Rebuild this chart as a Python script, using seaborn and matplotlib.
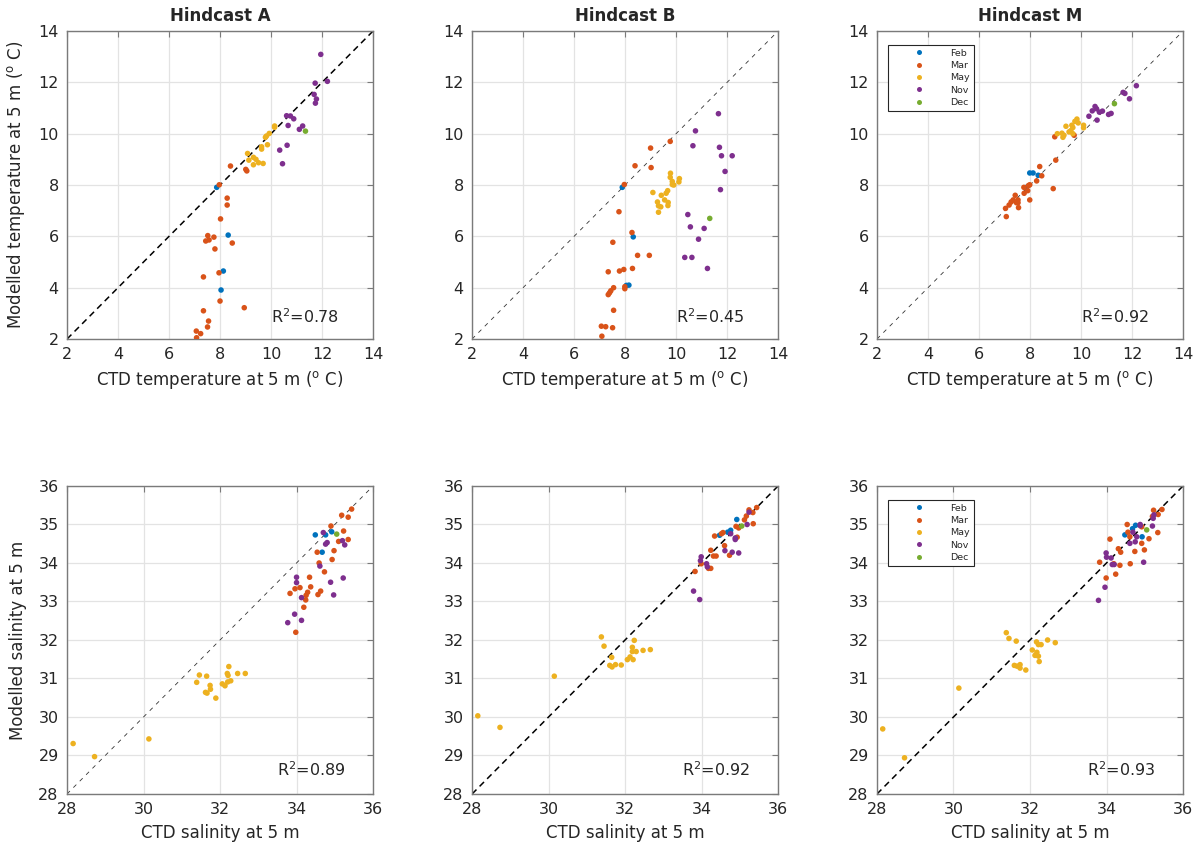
import matplotlib
matplotlib.use('Agg')
import matplotlib.pyplot as plt
from matplotlib.lines import Line2D
import seaborn as sns
import pandas as pd

months = ['Feb', 'Mar', 'May', 'Nov', 'Dec']
month_colors = {'Feb': '#0072BD', 'Mar': '#D95319', 'May': '#EDB120',
                'Nov': '#7E2F8E', 'Dec': '#77AC30'}

# temperature at 5 m: (CTD, modelled) per month
temp_a = {
    'Feb': ([7.87, 8.32, 8.13, 8.04], [7.91, 6.05, 4.65, 3.91]),
    'Mar': ([8.41, 9.01, 9.05, 7.97, 8.28, 8.28, 8.02, 7.52, 7.76, 7.44, 7.57, 8.48,
             7.80, 7.35, 7.96, 8.00, 8.95, 7.35, 7.55, 7.51, 7.07, 7.24, 7.08],
            [8.74, 8.61, 8.55, 8.01, 7.49, 7.22, 6.68, 6.03, 5.97, 5.82, 5.86, 5.74,
             5.51, 4.42, 4.58, 3.48, 3.22, 3.10, 2.70, 2.47, 2.31, 2.21, 2.05]),
    'May': ([10.14, 10.14, 9.93, 9.82, 9.78, 9.86, 9.63, 9.63, 9.08, 9.31, 9.13, 9.41,
             9.51, 9.69, 9.31],
            [10.30, 10.25, 10.01, 9.91, 9.86, 9.57, 9.49, 9.40, 9.23, 9.08, 8.97, 9.00,
             8.87, 8.84, 8.79]),
    'Nov': ([11.95, 12.21, 11.73, 11.69, 11.78, 11.74, 10.61, 10.76, 10.89, 10.67,
             11.24, 11.11, 10.63, 10.34, 10.45],
            [13.09, 12.04, 11.97, 11.53, 11.35, 11.19, 10.70, 10.69, 10.58, 10.32,
             10.30, 10.17, 9.55, 9.36, 8.83]),
    'Dec': ([11.35], [10.10]),
}
temp_b = {
    'Feb': ([7.89, 8.32, 8.05, 8.15], [7.91, 5.98, 4.09, 4.10]),
    'Mar': ([9.77, 9.00, 8.39, 9.02, 7.97, 7.76, 8.27, 7.52, 8.49, 8.95, 8.29, 7.95,
             7.78, 7.34, 7.99, 7.99, 7.55, 7.44, 7.39, 7.34, 7.55, 7.07, 7.24, 7.51, 7.09],
            [9.70, 9.44, 8.75, 8.68, 8.02, 6.96, 6.15, 5.77, 5.26, 5.26, 4.75, 4.71,
             4.65, 4.62, 3.96, 4.04, 4.00, 3.88, 3.80, 3.73, 3.12, 2.50, 2.48, 2.44, 2.11]),
    'May': ([9.78, 9.77, 9.85, 10.13, 10.11, 9.91, 9.85, 9.09, 9.67, 9.61, 9.42, 9.55,
             9.27, 9.69, 9.68, 9.31, 9.40, 9.31],
            [8.46, 8.30, 8.14, 8.25, 8.12, 8.00, 8.02, 7.71, 7.78, 7.68, 7.60, 7.42,
             7.34, 7.32, 7.20, 7.19, 7.15, 6.94]),
    'Nov': ([11.66, 10.76, 10.66, 11.70, 11.78, 12.20, 11.92, 11.74, 10.46, 10.56,
             11.10, 10.88, 10.34, 10.62, 11.23],
            [10.78, 10.11, 9.53, 9.47, 9.14, 9.14, 8.53, 7.82, 6.85, 6.37, 6.31, 5.89,
             5.18, 5.18, 4.75]),
    'Dec': ([11.32], [6.70]),
}
temp_m = {
    'Feb': ([7.99, 8.12, 8.32, 7.86], [8.47, 8.47, 8.38, 7.91]),
    'Mar': ([8.97, 9.73, 9.01, 8.38, 8.46, 8.26, 7.99, 7.94, 7.76, 8.91, 7.91, 7.77,
             7.99, 7.42, 7.34, 7.53, 7.47, 7.53, 7.26, 7.55, 7.04, 7.07, 7.18],
            [9.88, 9.94, 8.97, 8.72, 8.36, 8.16, 8.01, 7.98, 7.91, 7.86, 7.78, 7.68,
             7.42, 7.60, 7.42, 7.42, 7.31, 7.31, 7.34, 7.12, 7.09, 6.77, 7.22]),
    'May': ([9.84, 9.76, 9.89, 10.10, 10.10, 9.41, 9.64, 9.68, 9.60, 9.53, 9.25, 9.33,
             9.29, 9.07, 9.68],
            [10.57, 10.48, 10.42, 10.33, 10.23, 10.29, 10.33, 10.24, 10.12, 10.07, 10.02,
             9.94, 9.86, 10.00, 10.00]),
    'Nov': ([12.17, 11.65, 11.72, 11.90, 10.55, 10.44, 10.61, 10.72, 10.84, 10.31,
             10.63, 11.08, 11.18],
            [11.87, 11.61, 11.57, 11.36, 11.06, 10.89, 10.97, 10.84, 10.88, 10.68,
             10.53, 10.75, 10.79]),
    'Dec': ([11.31], [11.17]),
}

# salinity at 5 m
sal_a = {
    'Feb': ([34.49, 34.76, 34.92, 34.67], [34.73, 34.73, 34.81, 34.28]),
    'Mar': ([35.44, 35.18, 35.35, 34.90, 35.23, 35.10, 35.35, 34.98, 34.54, 34.59, 34.93,
             34.73, 34.34, 33.96, 34.09, 33.83, 34.37, 34.29, 34.25, 34.24, 34.63, 34.56,
             34.19, 33.98],
            [35.40, 35.24, 35.19, 34.96, 34.83, 34.56, 34.61, 34.32, 34.28, 34.00, 34.09,
             33.77, 33.63, 33.33, 33.36, 33.21, 33.38, 33.24, 33.16, 33.04, 33.27, 33.18,
             32.85, 32.20]),
    'May': ([28.16, 28.72, 30.14, 31.39, 31.46, 31.65, 31.62, 31.66, 31.74, 31.75, 31.89,
             32.06, 32.13, 32.19, 32.21, 32.23, 32.20, 32.28, 32.46, 32.66],
            [29.31, 28.97, 29.43, 30.90, 31.09, 31.06, 30.64, 30.62, 30.82, 30.72, 30.49,
             30.86, 30.81, 31.13, 31.08, 31.31, 30.91, 30.94, 31.13, 31.13]),
    'Nov': ([34.70, 34.80, 34.76, 35.20, 35.26, 34.61, 34.00, 34.00, 34.89, 35.22, 34.13,
             34.97, 33.95, 33.77, 34.13],
            [34.79, 34.53, 34.49, 34.58, 34.47, 33.92, 33.63, 33.49, 33.50, 33.61, 33.10,
             33.17, 32.67, 32.45, 32.51]),
    'Dec': ([35.05], [34.75]),
}
sal_b = {
    'Feb': ([34.92, 34.47, 34.68, 34.76], [35.13, 34.72, 34.80, 34.85]),
    'Mar': ([35.44, 35.24, 35.34, 35.17, 35.12, 35.35, 34.90, 34.97, 34.56, 34.34, 34.52,
             34.93, 34.60, 34.24, 34.31, 34.38, 34.73, 33.99, 34.18, 34.24, 33.83],
            [35.44, 35.38, 35.31, 35.22, 35.12, 35.02, 34.95, 34.91, 34.79, 34.70, 34.76,
             34.67, 34.45, 34.33, 34.18, 34.18, 34.20, 33.98, 33.86, 33.86, 33.78]),
    'May': ([28.15, 28.73, 30.15, 31.38, 31.45, 31.65, 31.60, 31.66, 31.75, 31.90, 32.06,
             32.13, 32.21, 32.19, 32.19, 32.24, 32.29, 32.47, 32.66],
            [30.03, 29.73, 31.06, 32.08, 31.84, 31.55, 31.34, 31.30, 31.36, 31.35, 31.49,
             31.56, 31.49, 31.81, 31.70, 31.99, 31.70, 31.73, 31.75]),
    'Nov': ([33.79, 33.95, 33.99, 33.97, 34.13, 34.15, 34.61, 34.80, 34.97, 34.88, 34.88,
             34.76, 35.19, 35.24],
            [33.27, 33.05, 34.16, 34.06, 33.98, 33.90, 34.32, 34.28, 34.26, 34.61, 34.65,
             34.76, 35.00, 35.32]),
    'Dec': ([35.05], [34.96]),
}
sal_m = {
    'Feb': ([34.48, 34.68, 34.76, 34.93], [34.73, 34.89, 34.98, 34.68]),
    'Mar': ([35.45, 35.23, 35.35, 35.20, 34.92, 34.54, 34.56, 34.61, 34.09, 35.11, 35.34,
             34.92, 34.31, 34.37, 34.74, 34.99, 33.82, 34.19, 34.35, 34.62, 34.24, 33.99],
            [35.39, 35.37, 35.26, 35.21, 34.94, 35.00, 34.80, 34.68, 34.62, 34.63, 34.79,
             34.51, 34.37, 34.28, 34.30, 34.34, 34.02, 33.98, 33.94, 33.98, 33.71, 33.61]),
    'May': ([28.15, 28.72, 30.14, 31.38, 31.45, 31.64, 31.59, 31.66, 31.74, 31.74, 31.89,
             32.06, 32.17, 32.18, 32.13, 32.22, 32.24, 32.22, 32.29, 32.46, 32.66],
            [29.69, 28.94, 30.75, 32.19, 32.04, 31.97, 31.34, 31.32, 31.36, 31.27, 31.22,
             31.74, 31.95, 31.68, 31.60, 31.58, 31.44, 31.88, 31.88, 32.00, 31.93]),
    'Nov': ([33.79, 33.96, 33.99, 34.00, 34.12, 34.15, 34.20, 34.61, 34.75, 34.79, 34.88,
             34.88, 34.69, 35.20, 35.22, 35.24, 34.97],
            [33.03, 33.37, 34.26, 34.15, 34.13, 33.96, 33.96, 34.51, 34.55, 34.68, 35.00,
             34.97, 34.80, 34.96, 35.16, 35.25, 34.02]),
    'Dec': ([35.05], [34.86]),
}

titles = ['Hindcast A', 'Hindcast B', 'Hindcast M']
r2_temp = ['0.78', '0.45', '0.92']
r2_sal = ['0.89', '0.92', '0.93']


def panel_frame(d):
    rows = []
    for m in months:
        xs, ys = d[m]
        for x, y in zip(xs, ys):
            rows.append((x, y, m))
    return pd.DataFrame(rows, columns=['obs', 'mod', 'month'])


sns.set_theme(style='white')
plt.rcParams['font.family'] = ['DejaVu Sans']
plt.rcParams['lines.scale_dashes'] = False

fig = plt.figure(figsize=(12.03, 8.48), dpi=100)
lefts = [0.0557, 0.3924, 0.729]
w, h = 0.2544, 0.3632
bottoms = [0.6002, 0.0637]

edge = '#7a7a7a'
txt = '#262626'
deg = r'($^{\mathrm{o}}$ C)'

panels = [
    (temp_a, temp_b, temp_m),
    (sal_a, sal_b, sal_m),
]
heavy = [[True, False, False], [False, True, True]]

for row in range(2):
    for col in range(3):
        ax = fig.add_axes([lefts[col], bottoms[row], w, h])
        df = panel_frame(panels[row][col])
        if row == 0:
            lo, hi = 2, 14
        else:
            lo, hi = 28, 36

        # 1:1 line
        if heavy[row][col]:
            ax.plot([lo, hi], [lo, hi], color='black', lw=1.1, dashes=(4.5, 3.2), zorder=2)
        else:
            ax.plot([lo, hi], [lo, hi], color='#333333', lw=0.6, dashes=(3.0, 3.5), zorder=2)

        sns.scatterplot(data=df, x='obs', y='mod', hue='month', hue_order=months,
                        palette=month_colors, s=16, linewidth=0, legend=False,
                        ax=ax, zorder=3)

        ax.set_xlim(lo, hi)
        ax.set_ylim(lo, hi)
        if row == 0:
            ax.set_xticks(range(2, 15, 2))
            ax.set_yticks(range(2, 15, 2))
            ax.set_xlabel('CTD temperature at 5 m ' + deg, fontsize=12, color=txt, labelpad=5)
            ax.set_ylabel('Modelled temperature at 5 m ' + deg if col == 0 else '',
                          fontsize=12, color=txt, labelpad=8)
            ax.set_title(titles[col], fontsize=12, fontweight='bold', pad=7)
            ax.text(10.0, 2.88, 'R$^2$=' + r2_temp[col], fontsize=11.5, color=txt,
                    va='center', ha='left')
        else:
            ax.set_xticks(range(28, 37, 2))
            ax.set_yticks(range(28, 37, 1))
            ax.set_xlabel('CTD salinity at 5 m', fontsize=12, color=txt, labelpad=5)
            ax.set_ylabel('Modelled salinity at 5 m' if col == 0 else '',
                          fontsize=12, color=txt, labelpad=8)
            ax.text(33.5, 28.64, 'R$^2$=' + r2_sal[col], fontsize=11.5, color=txt,
                    va='center', ha='left')

        ax.grid(True, color='#e3e3e3', lw=0.9)
        ax.set_axisbelow(True)
        ax.tick_params(direction='in', length=4, width=0.8, top=True, right=True,
                       color=edge, labelcolor=txt, labelsize=11.5, pad=6)
        for sp in ax.spines.values():
            sp.set_color(edge)
            sp.set_linewidth(1.0)

        if col == 2:
            handles = [Line2D([0], [0], marker='o', ls='none', markersize=3.6,
                              markerfacecolor=month_colors[m], markeredgewidth=0)
                       for m in months]
            leg = ax.legend(handles, months, loc='upper left', bbox_to_anchor=(0.036, 0.955),
                            borderaxespad=0, fontsize=6.8, handlelength=5.8,
                            handletextpad=0.4, labelspacing=0.35, borderpad=0.4,
                            fancybox=False, framealpha=1, edgecolor=txt)
            leg.get_frame().set_linewidth(0.8)
            for t in leg.get_texts():
                t.set_color(txt)

fig.savefig('out.png', dpi=100)
